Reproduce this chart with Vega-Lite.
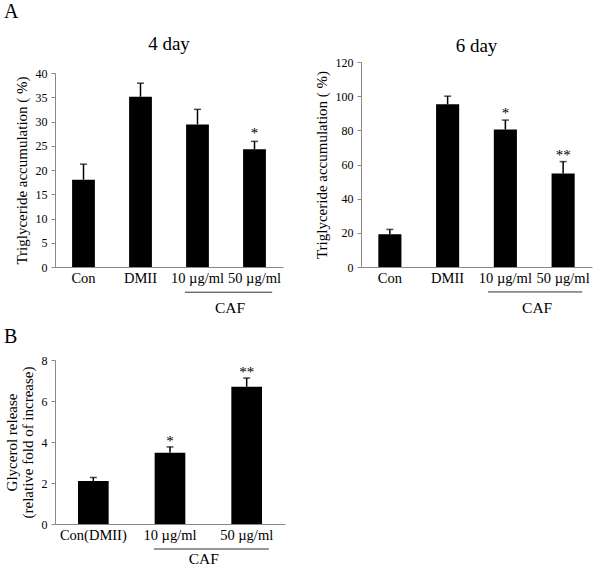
{
  "$schema": "https://vega.github.io/schema/vega-lite/v6.json",
  "padding": {"left": 4, "top": 2, "right": 5, "bottom": 5},
  "title": {"text": "A", "anchor": "start", "frame": "bounds", "fontSize": 20, "font": "Liberation Serif", "fontWeight": "normal", "offset": 13},
  "config": {
    "font": "Liberation Serif",
    "view": {"stroke": null},
    "text": {"color": "#000"},
    "axis": {"domainColor": "#888", "tickColor": "#888", "grid": false, "labelColor": "#000", "labelFont": "Liberation Serif", "titleFont": "Liberation Serif", "titleFontWeight": "normal", "titleColor": "#000", "titleFontSize": 15},
    "axisX": {"ticks": false, "labelAngle": 0, "labelFontSize": 14.5, "labelPadding": 4, "labelOverlap": false},
    "axisY": {"tickSize": 4, "labelFontSize": 12, "labelPadding": 4, "titlePadding": 6, "labelOverlap": false, "titleLineHeight": 16},
    "title": {"font": "Liberation Serif", "fontWeight": "normal", "fontSize": 19, "color": "#000"},
    "concat": {"spacing": 10}
  },
  "vconcat": [
    {
      "spacing": 31,
      "hconcat": [
        {
          "title": {"text": "4 day", "offset": 8},
          "width": 228,
          "height": 205,
          "layer": [
            {
              "data": {"values": [
                {"group": "Con", "value": 18, "err": 21.2, "sig": ""},
                {"group": "DMII", "value": 35.1, "err": 37.9, "sig": ""},
                {"group": "10 µg/ml", "value": 29.4, "err": 32.5, "sig": ""},
                {"group": "50 µg/ml", "value": 24.3, "err": 25.9, "sig": "*"}
              ]},
              "layer": [
                {"mark": {"type": "bar", "color": "#000", "width": {"band": 0.4}},
                 "encoding": {
                   "x": {"field": "group", "type": "nominal", "scale": {"type": "band", "domain": ["Con", "DMII", "10 µg/ml", "50 µg/ml"], "paddingInner": 0, "paddingOuter": 0}, "axis": {"title": null}},
                   "y": {"field": "value", "type": "quantitative", "scale": {"domain": [0, 40], "nice": false, "range": [205, 11]}, "axis": {"values": [0, 5, 10, 15, 20, 25, 30, 35, 40], "title": "Triglyceride accumulation ( %)"}}
                 }},
                {"mark": {"type": "rule", "color": "#000", "strokeWidth": 1.5},
                 "encoding": {"x": {"field": "group", "type": "nominal", "bandPosition": 0.5}, "y": {"field": "value", "type": "quantitative", "axis": {"values": [0, 5, 10, 15, 20, 25, 30, 35, 40], "title": "Triglyceride accumulation ( %)"}}, "y2": {"field": "err"}}},
                {"mark": {"type": "tick", "color": "#000", "thickness": 1.5, "size": 7},
                 "encoding": {"x": {"field": "group", "type": "nominal", "bandPosition": 0.5}, "y": {"field": "err", "type": "quantitative", "axis": {"values": [0, 5, 10, 15, 20, 25, 30, 35, 40], "title": "Triglyceride accumulation ( %)"}}}},
                {"mark": {"type": "text", "fontSize": 15, "baseline": "alphabetic", "dy": -3, "color": "#000"},
                 "encoding": {"x": {"field": "group", "type": "nominal", "bandPosition": 0.5}, "y": {"field": "err", "type": "quantitative", "axis": {"values": [0, 5, 10, 15, 20, 25, 30, 35, 40], "title": "Triglyceride accumulation ( %)"}}, "text": {"field": "sig"}}}
              ]
            },
            {
              "data": {"values": [{"start": "10 µg/ml", "end": "50 µg/ml", "liney": -5.2, "label": "CAF", "labely": -8.5}]},
              "layer": [
                {"mark": {"type": "rule", "color": "#333", "strokeWidth": 1},
                 "encoding": {"x": {"field": "start", "type": "nominal", "bandPosition": 0.28}, "x2": {"field": "end", "bandPosition": 0.81}, "y": {"field": "liney", "type": "quantitative", "axis": {"values": [0, 5, 10, 15, 20, 25, 30, 35, 40], "title": "Triglyceride accumulation ( %)"}}}},
                {"mark": {"type": "text", "fontSize": 15.5, "baseline": "middle", "color": "#000"},
                 "encoding": {"x": {"field": "end", "type": "nominal", "bandPosition": 0.07}, "y": {"field": "labely", "type": "quantitative", "axis": {"values": [0, 5, 10, 15, 20, 25, 30, 35, 40], "title": "Triglyceride accumulation ( %)"}}, "text": {"field": "label"}}}
              ]
            }
          ]
        },
        {
          "title": {"text": "6 day", "offset": 0},
          "width": 231,
          "height": 205,
          "layer": [
            {
              "data": {"values": [
                {"group": "Con", "value": 19.1, "err": 22, "sig": ""},
                {"group": "DMII", "value": 95.2, "err": 100, "sig": ""},
                {"group": "10 µg/ml", "value": 80.5, "err": 86, "sig": "*"},
                {"group": "50 µg/ml", "value": 54.8, "err": 61.7, "sig": "**"}
              ]},
              "layer": [
                {"mark": {"type": "bar", "color": "#000", "width": {"band": 0.4}},
                 "encoding": {
                   "x": {"field": "group", "type": "nominal", "scale": {"type": "band", "domain": ["Con", "DMII", "10 µg/ml", "50 µg/ml"], "paddingInner": 0, "paddingOuter": 0}, "axis": {"title": null}},
                   "y": {"field": "value", "type": "quantitative", "scale": {"domain": [0, 120], "nice": false}, "axis": {"values": [0, 20, 40, 60, 80, 100, 120], "title": "Triglyceride accumulation ( %)"}}
                 }},
                {"mark": {"type": "rule", "color": "#000", "strokeWidth": 1.5},
                 "encoding": {"x": {"field": "group", "type": "nominal", "bandPosition": 0.5}, "y": {"field": "value", "type": "quantitative", "axis": {"values": [0, 20, 40, 60, 80, 100, 120], "title": "Triglyceride accumulation ( %)"}}, "y2": {"field": "err"}}},
                {"mark": {"type": "tick", "color": "#000", "thickness": 1.5, "size": 7},
                 "encoding": {"x": {"field": "group", "type": "nominal", "bandPosition": 0.5}, "y": {"field": "err", "type": "quantitative", "axis": {"values": [0, 20, 40, 60, 80, 100, 120], "title": "Triglyceride accumulation ( %)"}}}},
                {"mark": {"type": "text", "fontSize": 15, "baseline": "alphabetic", "dy": -2, "color": "#000"},
                 "encoding": {"x": {"field": "group", "type": "nominal", "bandPosition": 0.5}, "y": {"field": "err", "type": "quantitative", "axis": {"values": [0, 20, 40, 60, 80, 100, 120], "title": "Triglyceride accumulation ( %)"}}, "text": {"field": "sig"}}}
              ]
            },
            {
              "data": {"values": [{"start": "10 µg/ml", "end": "50 µg/ml", "liney": -14.6, "label": "CAF", "labely": -24}]},
              "layer": [
                {"mark": {"type": "rule", "color": "#333", "strokeWidth": 1},
                 "encoding": {"x": {"field": "start", "type": "nominal", "bandPosition": 0.2}, "x2": {"field": "end", "bandPosition": 0.83}, "y": {"field": "liney", "type": "quantitative", "axis": {"values": [0, 20, 40, 60, 80, 100, 120], "title": "Triglyceride accumulation ( %)"}}}},
                {"mark": {"type": "text", "fontSize": 15.5, "baseline": "middle", "color": "#000"},
                 "encoding": {"x": {"field": "end", "type": "nominal", "bandPosition": 0.05}, "y": {"field": "labely", "type": "quantitative", "axis": {"values": [0, 20, 40, 60, 80, 100, 120], "title": "Triglyceride accumulation ( %)"}}, "text": {"field": "label"}}}
              ]
            }
          ]
        }
      ]
    },
    {
      "title": {"text": "B", "anchor": "start", "frame": "bounds", "fontSize": 20, "offset": 7},
      "width": 230,
      "height": 164,
      "layer": [
        {
          "data": {"values": [
            {"group": "Con(DMII)", "value": 2.1, "err": 2.27, "sig": ""},
            {"group": "10 µg/ml", "value": 3.48, "err": 3.76, "sig": "*"},
            {"group": "50 µg/ml", "value": 6.7, "err": 7.12, "sig": "**"}
          ]},
          "layer": [
            {"mark": {"type": "bar", "color": "#000", "width": {"band": 0.4}},
             "encoding": {
               "x": {"field": "group", "type": "nominal", "scale": {"type": "band", "domain": ["Con(DMII)", "10 µg/ml", "50 µg/ml"], "paddingInner": 0, "paddingOuter": 0}, "axis": {"title": null}},
               "y": {"field": "value", "type": "quantitative", "scale": {"domain": [0, 8], "nice": false}, "axis": {"values": [0, 2, 4, 6, 8], "title": ["Glycerol release", "(relative fold of increase)"]}}
             }},
            {"mark": {"type": "rule", "color": "#000", "strokeWidth": 1.5},
             "encoding": {"x": {"field": "group", "type": "nominal", "bandPosition": 0.5}, "y": {"field": "value", "type": "quantitative", "axis": {"values": [0, 2, 4, 6, 8], "title": ["Glycerol release", "(relative fold of increase)"]}}, "y2": {"field": "err"}}},
            {"mark": {"type": "tick", "color": "#000", "thickness": 1.5, "size": 7},
             "encoding": {"x": {"field": "group", "type": "nominal", "bandPosition": 0.5}, "y": {"field": "err", "type": "quantitative", "axis": {"values": [0, 2, 4, 6, 8], "title": ["Glycerol release", "(relative fold of increase)"]}}}},
            {"mark": {"type": "text", "fontSize": 15, "baseline": "alphabetic", "dy": -1, "color": "#000"},
             "encoding": {"x": {"field": "group", "type": "nominal", "bandPosition": 0.5}, "y": {"field": "err", "type": "quantitative", "axis": {"values": [0, 2, 4, 6, 8], "title": ["Glycerol release", "(relative fold of increase)"]}}, "text": {"field": "sig"}}}
          ]
        },
        {
          "data": {"values": [{"start": "10 µg/ml", "end": "50 µg/ml", "liney": -1.22, "label": "CAF", "labely": -1.7}]},
          "layer": [
            {"mark": {"type": "rule", "color": "#333", "strokeWidth": 1},
             "encoding": {"x": {"field": "start", "type": "nominal", "bandPosition": 0.29}, "x2": {"field": "end", "bandPosition": 0.79}, "y": {"field": "liney", "type": "quantitative", "axis": {"values": [0, 2, 4, 6, 8], "title": ["Glycerol release", "(relative fold of increase)"]}}}},
            {"mark": {"type": "text", "fontSize": 15.5, "baseline": "middle", "color": "#000"},
             "encoding": {"x": {"field": "start", "type": "nominal", "bandPosition": 0.94}, "y": {"field": "labely", "type": "quantitative", "axis": {"values": [0, 2, 4, 6, 8], "title": ["Glycerol release", "(relative fold of increase)"]}}, "text": {"field": "label"}}}
          ]
        }
      ]
    }
  ]
}
